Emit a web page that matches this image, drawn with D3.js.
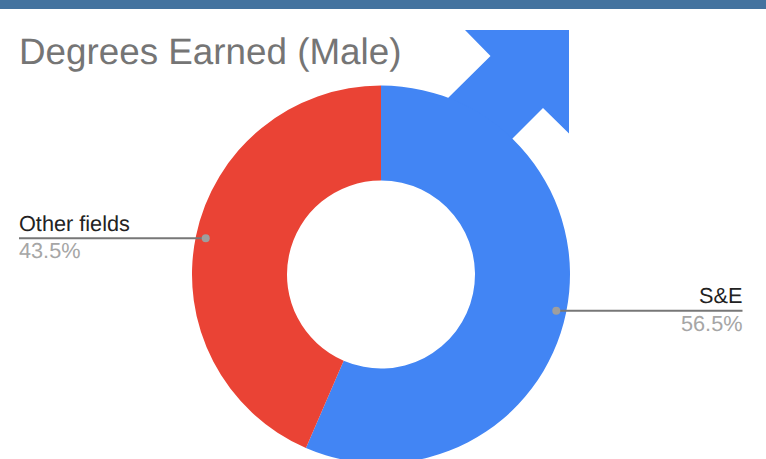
<!DOCTYPE html>
<html>
<head>
<meta charset="utf-8">
<style>html,body{margin:0;padding:0;background:#fff;overflow:hidden}svg{display:block}text{font-family:"Liberation Sans",Arial,sans-serif;text-rendering:geometricPrecision}</style>
<script src="https://cdn.jsdelivr.net/npm/d3@7"></script>
</head>
<body>
<script>
const titleText = "Degrees Earned (Male)";
const categories = ["S&E", "Other fields"];
const values = [56.5, 43.5];
const colors = ["#4285f4", "#ea4335"];
const arrowOffsets = [[84,-244.5],[188,-244.5],[188,-141],[162,-166.5],[120,-124.5],[60,-124.5],[67,-176.5],[109.5,-218.5]];

const W = 766, H = 459, cx = 381, cy = 274.5, R = 189, r = 94, leadR = 179;
const svg = d3.select("body").append("svg").attr("width", W).attr("height", H);
svg.append("rect").attr("width", W).attr("height", 9).attr("fill", "#44739f");
svg.append("text").attr("x", 19).attr("y", 64).attr("font-size", 36.8).attr("fill", "#757575").text(titleText);

const g = svg.append("g").attr("transform", `translate(${cx},${cy})`);
g.append("path").attr("d", d3.line()(arrowOffsets) + "Z").attr("fill", colors[0]);

const pie = d3.pie().sort(null)(values);
const arc = d3.arc().innerRadius(r).outerRadius(R);
g.selectAll("path.s").data(pie).join("path").attr("class", "s").attr("d", arc).attr("fill", (d, i) => colors[i]);

const pct = d3.format(".1f");
const lead = d3.arc().innerRadius(leadR).outerRadius(leadR);
pie.forEach((d, i) => {
  const [px, py] = lead.centroid(d);
  const right = px > 0;
  const x = cx + px, y = cy + py;
  const end = right ? 742.5 : 19;
  svg.append("line").attr("x1", x).attr("x2", end).attr("y1", y).attr("y2", y).attr("stroke", "#777").attr("stroke-width", 2);
  svg.append("circle").attr("cx", x).attr("cy", y).attr("r", 4).attr("fill", "#9e9e9e");
  const anchor = right ? "end" : "start";
  svg.append("text").attr("x", end).attr("y", y - 7.5).attr("text-anchor", anchor).attr("font-size", 21.7).attr("fill", "#222").text(categories[i]);
  svg.append("text").attr("x", end).attr("y", y + 20).attr("text-anchor", anchor).attr("font-size", 21.7).attr("fill", "#a6a6a6").text(pct(d.value) + "%");
});
</script>
</body>
</html>
